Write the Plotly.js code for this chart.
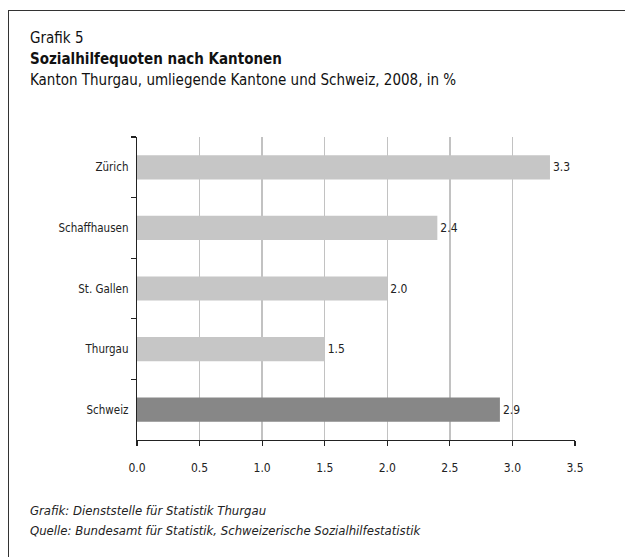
<!DOCTYPE html>
<html><head><meta charset="utf-8">
<script src="https://cdn.plot.ly/plotly-3.0.1.min.js"></script>
<style>
body{margin:0;background:#fff;overflow:hidden}
#frame{position:absolute;left:8px;top:10px;width:700px;height:700px;border-left:1.5px solid #333;border-top:1.5px solid #333;pointer-events:none}
#chart{position:absolute;left:0;top:0;width:625px;height:557px}
</style></head>
<body>
<div id="chart"></div>
<div id="frame"></div>
<script>
var categories = ["Zürich", "Schaffhausen", "St. Gallen", "Thurgau", "Schweiz"];
var values = [3.3, 2.4, 2.0, 1.5, 2.9];
var barColors = ["#c6c6c6", "#c6c6c6", "#c6c6c6", "#c6c6c6", "#878787"];
var xTicks = [0, 0.5, 1.0, 1.5, 2.0, 2.5, 3.0, 3.5];
var xTickLabels = ["0.0", "0.5", "1.0", "1.5", "2.0", "2.5", "3.0", "3.5"];

var FONT = '"DejaVu Sans Condensed", "Liberation Sans Narrow", "DejaVu Sans", sans-serif';
var W = 625, H = 557, L = 137, R = 50, T = 137, B = 117;
var pw = W - L - R, ph = H - T - B;
function px(x){ return (x - L) / pw; }
function py(y){ return (H - B - y) / ph; }

var trace = {
  type: "bar", orientation: "h",
  x: values, y: categories,
  marker: {color: barColors},
  text: values.map(function(v){ return v.toFixed(1); }),
  textposition: "outside",
  textfont: {family: FONT, size: 12, color: "#222"},
  cliponaxis: false,
  hoverinfo: "none"
};

var layout = {
  width: W, height: H,
  margin: {l: L, r: R, t: T, b: B},
  paper_bgcolor: "#fff", plot_bgcolor: "#fff",
  showlegend: false,
  bargap: 0.6,
  font: {family: FONT, size: 12, color: "#222"},
  xaxis: {
    range: [0, 3.5], tickvals: xTicks, ticktext: xTickLabels,
    showgrid: true, gridcolor: "#c2c2c2", gridwidth: 1.5,
    zeroline: false, showline: true, linecolor: "#222", linewidth: 1.2,
    ticks: "outside", ticklen: 5, tickcolor: "#222", tickwidth: 1.2,
    tickfont: {family: FONT, size: 12, color: "#222"},
    ticklabelstandoff: 11, fixedrange: true
  },
  yaxis: {
    type: "category", autorange: "reversed",
    showgrid: false, zeroline: false,
    showline: true, linecolor: "#222", linewidth: 1.2,
    ticks: "outside", tickson: "boundaries", ticklen: 5, tickcolor: "#222", tickwidth: 1.2,
    tickfont: {family: FONT, size: 11.5, color: "#222"},
    ticklabelstandoff: 5, fixedrange: true
  },
  annotations: [
    {xref: "paper", yref: "paper", x: px(28), y: py(38), xanchor: "left", yanchor: "middle", showarrow: false,
     text: "Grafik 5", font: {family: FONT, size: 15, color: "#111"}},
    {xref: "paper", yref: "paper", x: px(28), y: py(59), xanchor: "left", yanchor: "middle", showarrow: false,
     text: "<b>Sozialhilfequoten nach Kantonen</b>", font: {family: FONT, size: 15, color: "#111"}},
    {xref: "paper", yref: "paper", x: px(28), y: py(80), xanchor: "left", yanchor: "middle", showarrow: false,
     text: "Kanton Thurgau, umliegende Kantone und Schweiz, 2008, in %", font: {family: FONT, size: 15, color: "#111"}},
    {xref: "paper", yref: "paper", x: px(28), y: py(510), xanchor: "left", yanchor: "middle", showarrow: false,
     text: "<i>Grafik: Dienststelle für Statistik Thurgau</i>", font: {family: FONT, size: 13, color: "#222"}},
    {xref: "paper", yref: "paper", x: px(28), y: py(530), xanchor: "left", yanchor: "middle", showarrow: false,
     text: "<i>Quelle: Bundesamt für Statistik, Schweizerische Sozialhilfestatistik</i>", font: {family: FONT, size: 13, color: "#222"}}
  ]
};

Plotly.newPlot("chart", [trace], layout, {staticPlot: true, displayModeBar: false});
</script>
</body></html>
